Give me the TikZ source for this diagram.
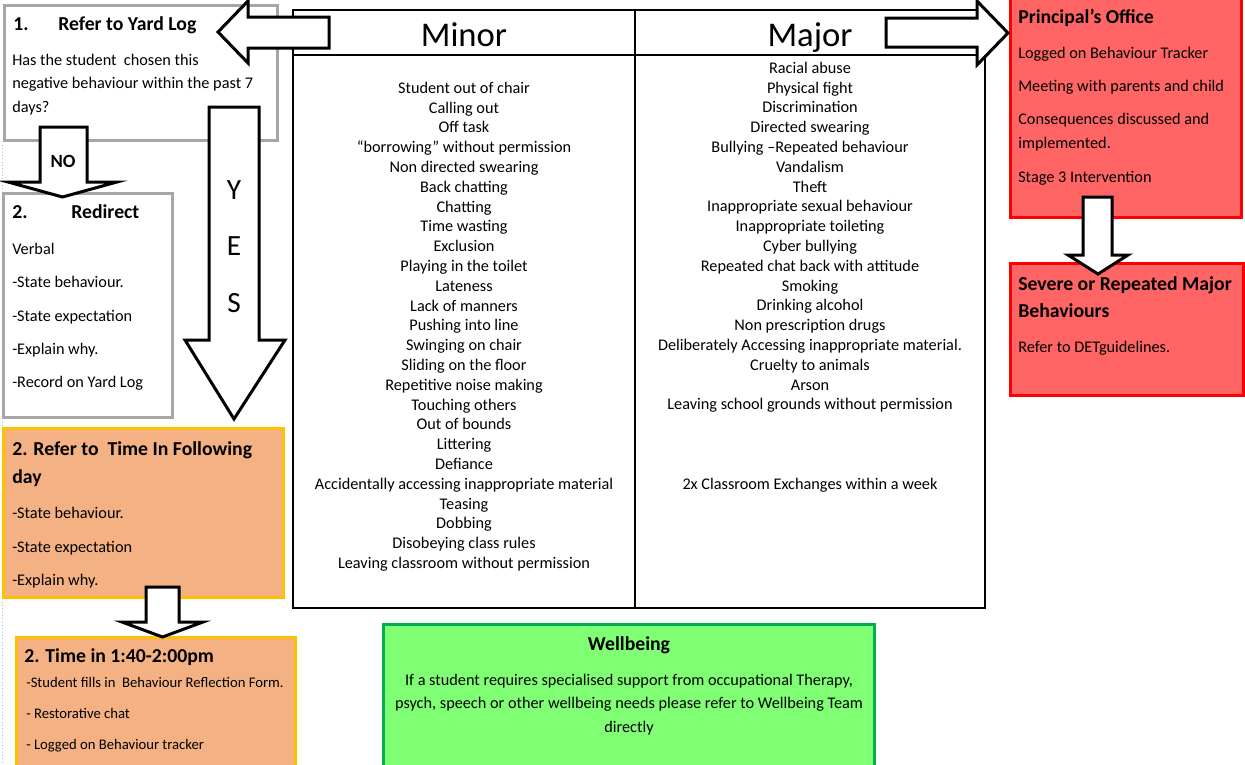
\documentclass[tikz,border=0pt]{standalone}
\usepackage{fontspec}
\setmainfont{Carlito}
\usetikzlibrary{fit,calc}
\tikzset{
    body/.style={
        font=\fontsize{12.2}{14.6}\selectfont
    }
}

\begin{document}
\begin{tikzpicture}[x=0.75pt,y=-0.75pt]
    \def\boxw{2.25pt}
    \def\pitch{19.8}

    \definecolor{box-gray}{HTML}{A6A6A6}
    \definecolor{box-orange}{HTML}{F4B183}
    \definecolor{box-orangeline}{HTML}{FFC000}
    \definecolor{box-red}{HTML}{FF6565}
    \definecolor{box-redline}{HTML}{FF0000}
    \definecolor{box-green}{HTML}{80FF75}
    \definecolor{box-greenline}{HTML}{00B050}
    \definecolor{guide-blue}{HTML}{9DC3E6}

    \tikzset{
      box/.style={
        line width=\boxw,
        inner sep=0pt
      },
      graybox/.style={box, draw=box-gray, fill=white},
      orangebox/.style={box, draw=box-orangeline, fill=box-orange},
      redbox/.style={box, draw=box-redline, fill=box-red},
      greenbox/.style={box, draw=box-greenline, fill=box-green},
      tblcell/.style={
        draw=black,
        line width=1.5pt,
        inner sep=0pt
      },
      headtxt/.style={anchor=base, inner sep=0pt, font=\fontsize{26}{30}\selectfont},
      txt/.style={body, anchor=mid west, inner sep=0pt, yshift=-1.6pt},
      smalltxt/.style={txt, font=\fontsize{11}{13}\selectfont},
      ttl/.style={
        anchor=mid west,
        inner sep=0pt,
        yshift=-2pt,
        font=\fontsize{14.8}{17}\selectfont\bfseries
      },
      item/.style={body, anchor=mid, inner sep=0pt, yshift=-1.6pt},
      blockarrow/.style={
        draw=black,
        line width=2.25pt,
        fill=white,
        line join=miter
      },
      yestxt/.style={font=\fontsize{22}{26}\selectfont, inner sep=0pt}
    }

    \clip (0,0) rectangle (1245,764);
    \fill[white] (0,0) rectangle (1245,764);
    \draw[guide-blue, line width=0.5pt, dotted] (2,145) -- (2,764);

    \node[graybox, fit={(4,5) (277,140)}] (yardlog) {};
    \node[ttl] (yardlog-t) at (13,25) {\makebox[33.75pt][l]{1.}Refer to Yard Log};
    \node[txt] (yardlog-1) at (12,60) {Has the student\ \ chosen this};
    \node[txt] (yardlog-2) at (12,83) {negative behaviour within the past 7};
    \node[txt] (yardlog-3) at (12,107) {days?};

    \node[graybox, fit={(3,193) (172,417)}] (redirect) {};
    \node[ttl] (redirect-t) at (12,213) {\makebox[44.25pt][l]{2.}Redirect};
    \foreach \t/\y [count=\i] in {Verbal/249, -State behaviour./282, -State expectation/316,
        -Explain why./349, -Record on Yard Log/382}
      \node[txt] (redirect-\i) at (12,\y) {\t};

    \node[orangebox, fit={(3,428) (283,597)}] (timein) {};
    \node[ttl] (timein-t) at (12,450) {2. Refer to\ \ Time In Following};
    \node[ttl] (timein-t2) at (12,478) {day};
    \foreach \t/\y [count=\i] in {-State behaviour./513, -State expectation/547, -Explain why./580}
      \node[txt] (timein-\i) at (12,\y) {\t};

    \node[orangebox, fit={(16,637) (295,780)}] (timeslot) {};
    \node[ttl] (timeslot-t) at (24,657) {2. Time in 1:40-2:00pm};
    \foreach \t/\y [count=\i] in {-Student fills in\ \ Behaviour Reflection Form./682,
        - Restorative chat/713, - Logged on Behaviour tracker/744}
      \node[smalltxt] (timeslot-\i) at (26,\y) {\t};

    \node[greenbox, fit={(383,624) (874,780)}] (wellbeing) {};
    \node[ttl, anchor=mid] (wellbeing-t) at (629,645) {Wellbeing};
    \node[item] (wellbeing-1) at (629,680) {If a student requires specialised support from occupational\ Therapy,};
    \node[item] (wellbeing-2) at (629,703) {psych, speech or other wellbeing needs please refer to Wellbeing Team};
    \node[item] (wellbeing-3) at (629,727) {directly};

    \node[redbox, fit={(1010,-5) (1241,217)}] (office) {};
    \node[ttl] (office-t) at (1018,18) {Principal’s Office};
    \foreach \t/\y [count=\i] in {Logged on Behaviour Tracker/53, Meeting with parents and child/86,
        Consequences discussed and/119, implemented./143, Stage 3 Intervention/177}
      \node[txt] (office-\i) at (1018,\y) {\t};

    \node[redbox, fit={(1010,263) (1243,395)}] (severe) {};
    \node[ttl] (severe-t) at (1018,285) {Severe or Repeated Major};
    \node[ttl] (severe-t2) at (1018,312) {Behaviours};
    \node[txt] (severe-1) at (1018,347) {Refer to DETguidelines.};

    \node[tblcell, fit={(293,10) (635,55)}] (minorhead) {};
    \node[tblcell, fit={(635,10) (985,55)}] (majorhead) {};
    \node[headtxt] (minorhead-t) at (464,46) {Minor};
    \node[headtxt] (majorhead-t) at (810,46) {Major};
    \node[tblcell, fit={(293,55) (635,608)}] (minorcol) {};
    \node[tblcell, fit={(635,55) (985,608)}] (majorcol) {};

    \foreach \t [count=\i] in {Student out of chair, Calling out, Off task,
        “borrowing” without permission, Non directed swearing, Back chatting, Chatting,
        Time wasting, Exclusion, Playing in the toilet, Lateness, Lack of manners,
        Pushing into line, Swinging on chair, Sliding on the floor, Repetitive noise making,
        Touching others, Out of bounds, Littering, Defiance,
        Accidentally accessing inappropriate material, Teasing, Dobbing,
        Disobeying class rules, Leaving classroom without permission}
      \node[item] (minor-\i) at (464,{88+(\i-1)*\pitch}) {\t};

    \foreach \t [count=\i] in {Racial abuse, Physical fight, Discrimination, Directed swearing,
        Bullying –Repeated behaviour, Vandalism, Theft, Inappropriate sexual behaviour,
        Inappropriate toileting, Cyber bullying, Repeated chat back with attitude, Smoking,
        Drinking alcohol, Non prescription drugs, Deliberately Accessing inappropriate material.,
        Cruelty to animals, Arson, Leaving school grounds without permission}
      \node[item] (major-\i) at (810,{68+(\i-1)*\pitch}) {\t};
    \node[item] (major-x) at (810,{68+21*\pitch}) {2x Classroom Exchanges within a week};

    \draw[blockarrow] (329,17) -- (248,17) -- (248,1) -- (218,32) -- (248,63) -- (248,48) -- (329,48) -- cycle;
    \draw[blockarrow] (886,18) -- (977,18) -- (977,1) -- (1008,33) -- (977,65) -- (977,47) -- (886,47) -- cycle;

    \draw[blockarrow] (40,127) -- (87,127) -- (87,182) -- (117,182) -- (62.5,197) -- (8,182) -- (40,182) -- cycle;
    \node[ttl, anchor=mid, font=\fontsize{14}{16}\selectfont\bfseries] (no) at (63,162) {NO};

    \draw[blockarrow] (209,107) -- (259,107) -- (259,340) -- (285,340) -- (234,419) -- (185,340) -- (209,340) -- cycle;
    \node[yestxt] (yes-y) at (234,190) {Y};
    \node[yestxt] (yes-e) at (234,246) {E};
    \node[yestxt] (yes-s) at (234,303) {S};

    \draw[blockarrow] (146,587) -- (179,587) -- (179,622) -- (203,622) -- (162.5,637) -- (122,622) -- (146,622) -- cycle;
    \draw[blockarrow] (1083,197) -- (1112,197) -- (1112,255) -- (1128,255) -- (1098,274) -- (1068,255) -- (1083,255) -- cycle;
\end{tikzpicture}
\end{document}
